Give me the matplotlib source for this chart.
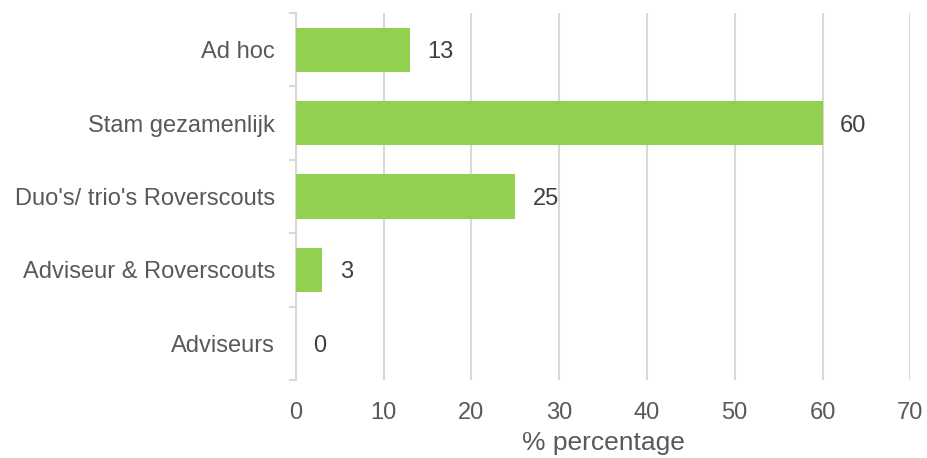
import matplotlib.pyplot as plt

plt.rcParams['font.family'] = ['Liberation Sans', 'DejaVu Sans']

# data
categories = ['Ad hoc', 'Stam gezamenlijk', "Duo's/ trio's Roverscouts",
              'Adviseur & Roverscouts', 'Adviseurs']
values = [13, 60, 25, 3, 0]
x_ticks = [0, 10, 20, 30, 40, 50, 60, 70]

fig = plt.figure(figsize=(9.27, 4.58), dpi=100)
ax = fig.add_axes([0.319, 0.170, 0.663, 0.802])

y = list(range(len(categories)))
ax.barh(y, values, height=0.6, color='#92D050', zorder=3)
for yi, v in zip(y, values):
    ax.text(v + 2, yi, str(v), va='center_baseline', ha='left', fontsize=17, color='#404040')

ax.set_ylim(len(categories) - 0.5, -0.5)
ax.set_xlim(0, 70)
ax.set_yticks(y)
ax.set_yticklabels(categories, fontsize=17, color='#595959')
ax.set_yticks([i - 0.5 for i in range(len(categories) + 1)], minor=True)
ax.tick_params(axis='y', which='major', length=0, pad=15)
ax.tick_params(axis='y', which='minor', length=5, color='#d9d9d9', width=1.5)
ax.set_xticks(x_ticks)
ax.tick_params(axis='x', length=0, labelsize=17, labelcolor='#595959', pad=16)
ax.xaxis.grid(True, color='#d9d9d9', linewidth=1.5, zorder=0)

for s in ['top', 'right', 'bottom']:
    ax.spines[s].set_visible(False)
ax.spines['left'].set_color('#d9d9d9')
ax.spines['left'].set_linewidth(1.5)

ax.set_xlabel('% percentage', fontsize=19, color='#595959', labelpad=5)

fig.savefig('out.png', dpi=100)
